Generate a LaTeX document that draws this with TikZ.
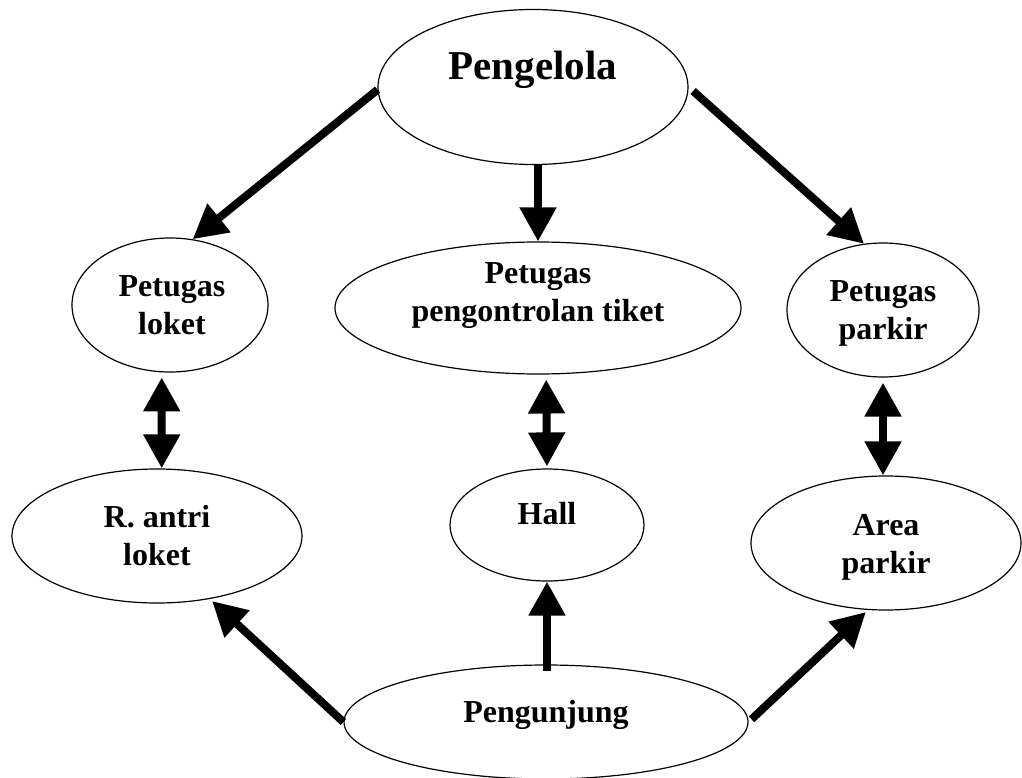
\documentclass[tikz,border=0pt]{standalone}
\usepackage{fontspec}
\setmainfont{Liberation Serif}
\usetikzlibrary{arrows.meta,shapes.geometric}

\begin{document}
\begin{tikzpicture}[x=1pt, y=-1pt,
  bubble/.style={draw, ellipse, line width=1.2pt, inner sep=0pt},
  lbl/.style={align=center, inner sep=0pt, font=\fontsize{32}{38}\selectfont\bfseries},
  flow/.style={line width=8pt, -{Triangle[length=34pt,width=35pt]}},
  twoway/.style={line width=8pt, {Triangle[length=34pt,width=35pt]}-{Triangle[length=34pt,width=35pt]}}]
  \useasboundingbox (0,0) rectangle (1022,778);
  % ellipses
  \node[bubble, minimum width=310pt, minimum height=155pt] (pengelola) at (533,87) {};
  \node[bubble, minimum width=196pt, minimum height=134pt] (loket) at (170,305) {};
  \node[bubble, minimum width=406pt, minimum height=132pt] (kontrol) at (538,308) {};
  \node[bubble, minimum width=192pt, minimum height=134pt] (pparkir) at (883,310) {};
  \node[bubble, minimum width=290pt, minimum height=134pt] (ranti) at (157,536) {};
  \node[bubble, minimum width=194pt, minimum height=112pt] (hall) at (547,525) {};
  \node[bubble, minimum width=270pt, minimum height=134pt] (aparkir) at (886,543) {};
  \node[bubble, minimum width=404pt, minimum height=114pt] (pengunjung) at (546,722) {};
  % texts
  \node[lbl, font=\fontsize{41}{48}\selectfont\bfseries] (pengelolaTxt) at ([yshift=17pt]pengelola.center) {Pengelola};
  \node[lbl] (loketTxt) at ([xshift=2pt]loket.center) {Petugas\\loket};
  \node[lbl] (kontrolTxt) at ([yshift=12pt]kontrol.center) {Petugas\\pengontrolan tiket};
  \node[lbl] (pparkirTxt) at ([yshift=-3pt]pparkir.center) {Petugas\\parkir};
  \node[lbl] (rantiTxt) at (ranti.center) {R. antri\\loket};
  \node[lbl] (hallTxt) at ([yshift=11pt]hall.center) {Hall};
  \node[lbl] (aparkirTxt) at ([yshift=-4pt]aparkir.center) {Area\\parkir};
  \node[lbl] (pengunjungTxt) at ([yshift=7pt]pengunjung.center) {Pengunjung};
  % arrows
  \draw[flow] (pengelola.181) -- (loket.71);
  \draw[flow] (kontrol.north |- pengelola.south) -- (kontrol.north);
  \draw[flow, shorten <=6pt] (pengelola.east) -- (pparkir.106);
  \draw[twoway, shorten <=5pt] (loket.263) -- (ranti.86);
  \draw[twoway, shorten <=5pt, shorten >=2pt] (kontrol.277) -- (hall.north);
  \draw[twoway, shorten <=5pt] (pparkir.south) -- (pparkir.south |- aparkir.north);
  \draw[flow, shorten >=3pt] (pengunjung.west) -- (ranti.310);
  \draw[flow, shorten <=-7pt] (hall.south |- pengunjung.north) -- (hall.south);
  \draw[flow, shorten <=4pt, shorten >=3pt] (pengunjung.east) -- (aparkir.255);
\end{tikzpicture}
\end{document}
